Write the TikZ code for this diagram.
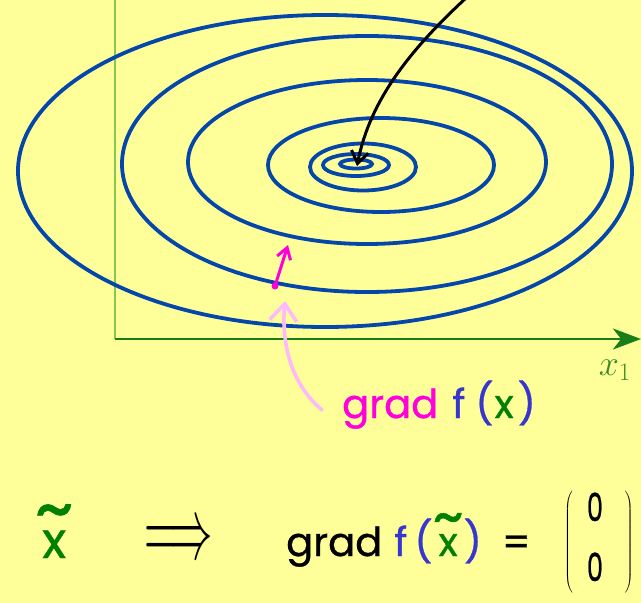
\RequirePackage{fix-cm}
\documentclass[tikz,border=0pt]{standalone}
\usepackage{fontspec}
\setmainfont{Poppins}[FakeBold=0.8]
\usepackage{graphicx}
\usetikzlibrary{arrows.meta}
\definecolor{bg}{HTML}{FFFF99}
\definecolor{ellblue}{RGB}{5,70,170}
\definecolor{mag}{RGB}{255,0,221}
\definecolor{fblue}{RGB}{55,55,205}
\definecolor{xgreen}{RGB}{0,128,0}
\definecolor{pinkarr}{RGB}{255,184,255}
\definecolor{axlight}{RGB}{136,200,80}
\definecolor{axdark}{RGB}{25,125,25}
\definecolor{labgreen}{RGB}{60,140,40}
\newcommand{\xtilde}{\ooalign{x\cr\hidewidth\raisebox{0.48em}{\scalebox{1.5}[1.5]{\textasciitilde}}\hidewidth\cr}}
\newcommand{\zr}{\scalebox{0.85}[1.3]{0}}
\tikzset{
  level/.style={draw=ellblue,line width=3.8pt},
  hand/.style={inner sep=0pt,font=\fontsize{40}{46}\selectfont},
}
\begin{document}
\begin{tikzpicture}[x=1pt,y=-1pt]
\fill[bg] (0,0) rectangle (641,603);
\useasboundingbox (0,0) rectangle (641,603);
% axes
\coordinate (o) at (114.5,339);
\coordinate (ytop) at (114.5,0);
\coordinate (xend) at (641,339);
\draw[axlight,line width=2pt] (o) -- (ytop);
\draw[axdark,line width=2.5pt,-{Stealth[length=28pt,width=21pt,inset=8pt]}] (o) -- (xend);
\node[labgreen,font=\fontsize{36}{38}\selectfont] (xlab) at (615,370) {$x_1$};
% level curves
\draw[level] (325,171) ellipse [x radius=307,y radius=156];
\draw[level] (367,164) ellipse [x radius=245,y radius=128];
\draw[level] (367,162) ellipse [x radius=179,y radius=82];
\draw[level] (381,165) ellipse [x radius=113,y radius=47];
\draw[level] (363,167) ellipse [x radius=53,y radius=23.5];
\draw[level] (356,165) ellipse [x radius=33,y radius=11];
\draw[level] (356,164) ellipse [x radius=16,y radius=4.5];
% black arrow to minimum
\coordinate (bstart) at (466,-2);
\coordinate (bmin) at (357,166);
\draw[black,line width=3pt,line cap=round,-{Straight Barb[length=12pt,width=17pt,line width=3pt]}]
  (bstart) .. controls (410,50) and (370,100) .. (bmin);
% gradient arrow
\coordinate (gp) at (275,286);
\coordinate (gt) at (288,245);
\draw[mag,line width=3pt,line cap=round,-{Straight Barb[length=11pt,width=14pt,line width=3pt]}] (gp) -- (gt);
\fill[mag] (gp) circle (3.5pt);
% label
\node[hand,anchor=base west] (gradlab) at (342,418)
  {\color{mag}grad\hspace{14pt}\color{fblue}f\hspace{10pt}(\hspace{1pt}\color{xgreen}x\hspace{4pt}\color{fblue})};
\coordinate (ptip) at (285,301);
\draw[pinkarr,line width=3.5pt,line cap=round,-{Straight Barb[length=17pt,width=27pt,line width=3.5pt]}]
  (322,410) .. controls (292,385) and (281,345) .. (ptip);
% bottom line
\node[inner sep=0pt,font=\fontsize{50}{60}\selectfont,anchor=base west,xgreen] (xt) at (42,558) {\xtilde};
\node[inner sep=0pt] (impl) at (179,542) {\resizebox{68pt}{32pt}{$\Longrightarrow$}};
\node[hand,anchor=base west] (eq) at (286,556)
  {grad\hspace{12pt}\color{fblue}f\hspace{7pt}(\hspace{6pt}\color{xgreen}\xtilde\hspace{6pt}\color{fblue})\hspace{20pt}\color{black}=};
\node[inner sep=0pt,font=\fontsize{40}{46}\selectfont,anchor=west] (vec) at (564,542)
  {$\left(\begin{array}{@{\hspace{14pt}}c@{\hspace{22pt}}}\mbox{\fontsize{30}{34}\selectfont\zr}\\[14pt]\mbox{\fontsize{30}{34}\selectfont\zr}\end{array}\right)$};
\end{tikzpicture}
\end{document}
